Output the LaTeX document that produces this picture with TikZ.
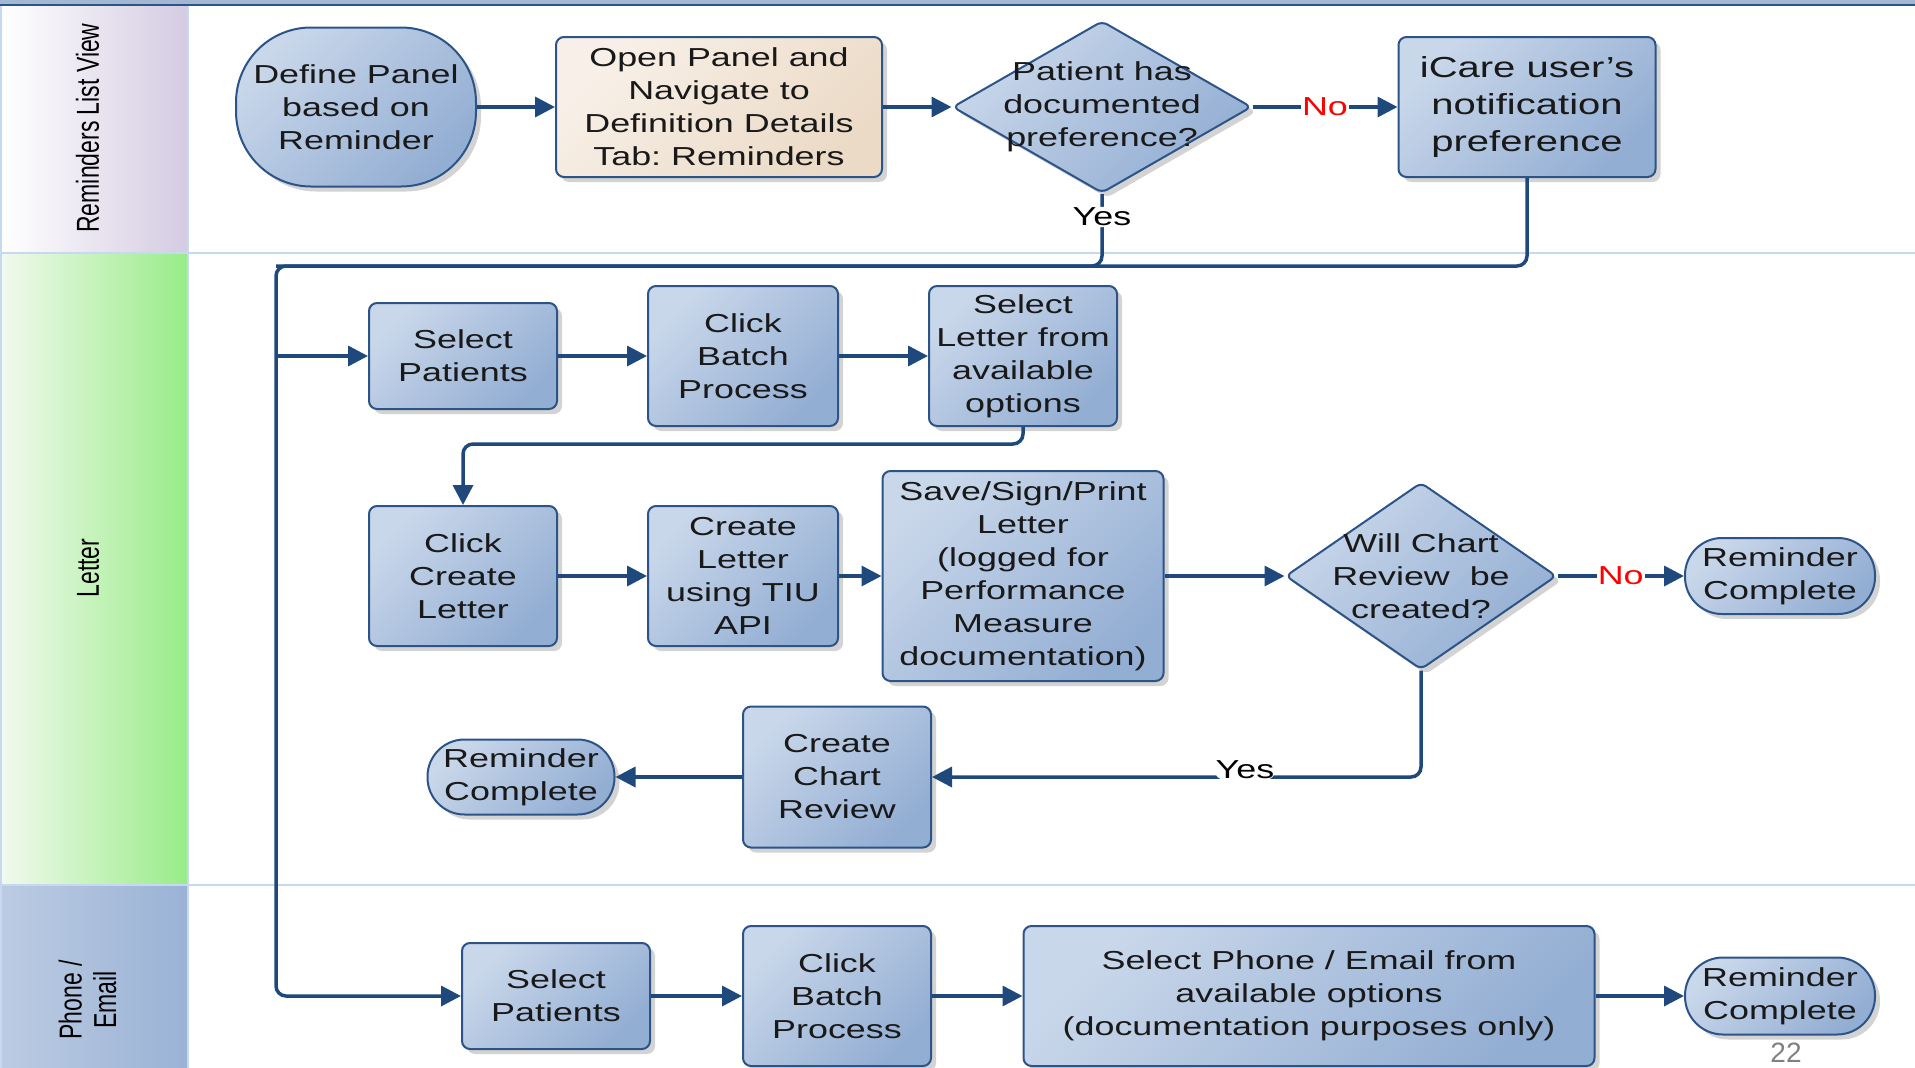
\documentclass[tikz,border=0pt]{standalone}
\usepackage{fontspec}
\setmainfont{Liberation Sans}[FakeStretch=1.38]
\newfontfamily\lanefont{Liberation Sans}
\usetikzlibrary{shapes.geometric,arrows.meta,shadows}
\definecolor{flowblue}{HTML}{1F497D}
\definecolor{edgeblue}{HTML}{2C5487}
\definecolor{boxlight}{HTML}{C9D7EA}
\definecolor{boxdark}{HTML}{93AED3}
\definecolor{beigelight}{HTML}{F8F0E8}
\definecolor{beigedark}{HTML}{EBDAC6}
\definecolor{laneviolet}{HTML}{D4CBE1}
\definecolor{lanegreen}{HTML}{98EC88}
\definecolor{lanegreenpale}{HTML}{F2F9EE}
\definecolor{lanebluepale}{HTML}{BCCBE2}
\definecolor{laneblue}{HTML}{9AB3D5}
\definecolor{sepblue}{HTML}{C6D9F1}
\definecolor{topbar}{HTML}{A3B7D3}
\newcommand\boxfont{\fontsize{26}{33}\selectfont}
\newcommand\lanetext[1]{\scalebox{1}[1.38]{\begin{tabular}{@{}c@{}}#1\end{tabular}}}
\tikzset{
  shade box/.style={draw=edgeblue, line width=2pt, top color=boxlight,
    bottom color=boxdark, shading angle=45,
    drop shadow={shadow xshift=5pt, shadow yshift=-5pt, opacity=.35},
    align=center, inner sep=0pt, font=\boxfont, text=black!90},
  box/.style={shade box, rounded corners=8pt},
  beigebox/.style={box, top color=beigelight, bottom color=beigedark, shading angle=45},
  terminal/.style={shade box, rounded corners=#1},
  decision/.style={shade box, diamond, rounded corners=6pt},
  inside/.style={align=center, font=\boxfont, text=black!90},
  lanelabel/.style={rotate=90, font=\lanefont\fontsize{23}{25}\selectfont},
  flow/.style={draw=flowblue, line width=3.5pt, -{Triangle[length=20pt,width=20pt]}},
  answer/.style={font=\boxfont, fill=white, inner sep=1pt},
}
\begin{document}
\begin{tikzpicture}[x=1pt,y=-1pt]
  \useasboundingbox (0,0) rectangle (1915,1068);
  \fill[topbar] (0,0) rectangle (1915,5);
  \draw[edgeblue, line width=1.5pt] (0,5) -- (1915,5);
  \shade[left color=white, right color=laneviolet] (0,6) rectangle (188,253);
  \shade[left color=lanegreenpale, right color=lanegreen] (0,253) rectangle (188,885);
  \shade[left color=lanebluepale, right color=laneblue] (0,885) rectangle (188,1068);
  \begin{scope}[sepblue, line width=1.5pt]
    \draw (0,253) -- (1915,253);
    \draw (0,885) -- (1915,885);
    \draw (188,6) -- (188,1068);
    \draw (1,6) -- (1,1068);
  \end{scope}
  \node[lanelabel] (l1) at (92,128) {\lanetext{Reminders List View}};
  \node[lanelabel] (l2) at (92,568) {\lanetext{Letter}};
  \node[lanelabel] (l3) at (92,1000) {\lanetext{Phone /\\Email}};

  \node[terminal=75pt, minimum width=240pt, minimum height=159pt] (dp) at (356,107)
    {Define Panel\\based on\\Reminder};
  \node[beigebox, minimum width=326pt, minimum height=140pt] (op) at (719,107)
    {Open Panel and\\Navigate to\\Definition Details\\Tab:\ Reminders};
  \node[decision, minimum width=299pt, minimum height=172pt,
    label={[inside]center:Patient has\\documented\\preference?}] (pref) at (1102,107) {};
  \node[box, minimum width=257pt, minimum height=140pt, font=\fontsize{29}{37}\selectfont] (ic) at (1527,107)
    {iCare user’s\\notification\\preference};

  \node[box, minimum width=188pt, minimum height=106pt] (sp1) at (463,356) {Select\\Patients};
  \node[box, minimum width=190pt, minimum height=140pt] (cb1) at (743,356) {Click\\Batch\\Process};
  \node[box, minimum width=188pt, minimum height=140pt] (sl) at (1023,356)
    {Select\\Letter from\\available\\options};
  \node[box, minimum width=188pt, minimum height=140pt] (ccl) at (463,576) {Click\\Create\\Letter};
  \node[box, minimum width=190pt, minimum height=140pt] (ctl) at (743,576)
    {Create\\Letter\\using TIU\\API};
  \node[box, minimum width=281pt, minimum height=210pt] (ssp) at (1023,576)
    {Save/Sign/Print\\Letter\\(logged for\\Performance\\Measure\\documentation)};
  \node[decision, minimum width=271pt, minimum height=187pt,
    label={[inside]center:Will Chart\\Review\ \ be\\created?}] (wcr) at (1421,576) {};
  \node[terminal=37pt, minimum width=190pt, minimum height=76pt] (rc1) at (1780,576)
    {Reminder\\Complete};
  \node[box, minimum width=188pt, minimum height=141pt] (ccr) at (837,777) {Create\\Chart\\Review};
  \node[terminal=37pt, minimum width=187pt, minimum height=75pt] (rc2) at (521,777)
    {Reminder\\Complete};

  \node[box, minimum width=188pt, minimum height=106pt] (sp2) at (556,996) {Select\\Patients};
  \node[box, minimum width=188pt, minimum height=140pt] (cb2) at (837,996) {Click\\Batch\\Process};
  \node[box, minimum width=571pt, minimum height=140pt] (spe) at (1309,996)
    {Select Phone / Email from\\available options\\(documentation purposes only)};
  \node[terminal=38pt, minimum width=190pt, minimum height=77pt] (rc3) at (1780,996)
    {Reminder\\Complete};
  \node[font=\lanefont\fontsize{28}{30}\selectfont, text=black!50] (pg) at (1786,1053) {22};

  \coordinate (bus) at (276,266);
  \begin{scope}[flow]
    \draw (dp) to (op);
    \draw (op) to (pref);
    \draw (pref) to node[answer, text=red] {No} (ic);
    \draw[rounded corners=10pt] (pref.south) |- node[answer, pos=.16] {Yes} (bus) |- (sp2.west);
    \draw[-, rounded corners=10pt] (ic.south) |- (bus);
    \draw (bus |- sp1.west) to (sp1.west);
    \draw (sp1) to (cb1);
    \draw (cb1) to (sl);
    \draw[rounded corners=10pt] (sl.south) -- ++(0,17) -| (ccl.north);
    \draw (ccl) to (ctl);
    \draw (ctl) to (ssp);
    \draw (ssp) to (wcr);
    \draw (wcr) to node[answer, text=red] {No} (rc1);
    \draw[rounded corners=10pt] (wcr.south) |- node[answer, pos=.68, yshift=7pt] {Yes} (ccr.east);
    \draw (ccr) to (rc2);
    \draw (sp2) to (cb2);
    \draw (cb2) to (spe);
    \draw (spe) to (rc3);
  \end{scope}
\end{tikzpicture}
\end{document}
